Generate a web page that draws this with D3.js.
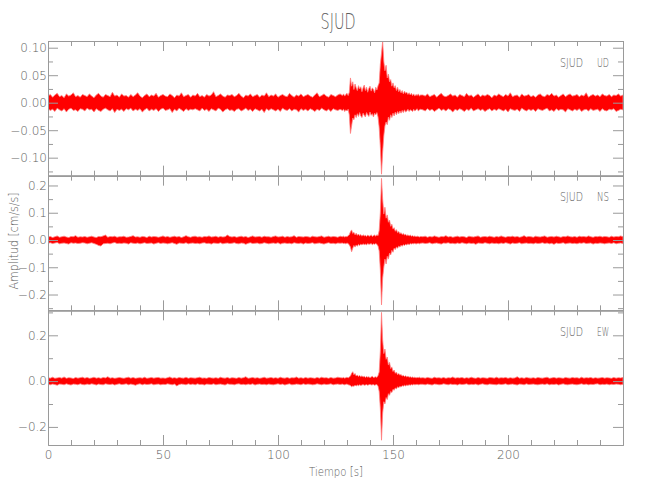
<!DOCTYPE html>
<html><head><meta charset="utf-8">
<script src="https://cdn.jsdelivr.net/npm/d3@7"></script>
<style>
html,body{margin:0;padding:0;background:#fff;}
svg{display:block;}
text{font-family:"DejaVu Sans",sans-serif;font-stretch:condensed;font-weight:200;fill:#5e5e5e;}
</style></head><body>
<svg id="chart" width="650" height="500"></svg>
<script>
// ---------------- data ----------------
const title = "SJUD";
const station = "SJUD";
const components = ["UD", "NS", "EW"];
const yAxisTitle = "Amplitud [cm/s/s]";
const xAxisTitle = "Tiempo [s]";

const xDomain = [0, 250];
const xTicksMajor = [0, 50, 100, 150, 200, 250];
const xTickLabels = ["0", "50", "100", "150", "200", ""];
const xTicksMinor = [10,20,30,40,60,70,80,90,110,120,130,140,160,170,180,190,210,220,230,240];

// sample times (s) of the envelope readings
const times = [
 0,1,2,3,4,5,6,7,8,9,10,11,12,13,14,15,16,17,18,19,20,21,22,23,24,25,26,27,28,29,30,31,32,33,34,35,36,37,38,39,40,41,42,43,44,45,46,47,48,49,
 50,51,52,53,54,55,56,57,58,59,60,61,62,63,64,65,66,67,68,69,70,71,72,73,74,75,76,77,78,79,80,81,82,83,84,85,86,87,88,89,90,91,92,93,94,95,96,97,98,99,
 100,101,102,103,104,105,106,107,108,109,110,111,112,113,114,115,116,117,118,119,120,121,122,123,124,125,126,127,
 128,128.5,129,129.5,130,130.5,131,131.5,132,132.5,133,133.5,134,134.5,135,135.5,136,136.5,137,137.5,138,138.5,139,139.5,140,140.5,141,141.5,142,142.5,143,143.5,144,144.5,145,145.5,146,146.5,147,147.5,148,148.5,149,149.5,150,150.5,151,151.5,152,152.5,153,153.5,154,154.5,155,155.5,156,156.5,157,157.5,158,158.5,159,159.5,160,160.5,161,161.5,162,
 163,164,165,166,167,168,169,170,171,172,173,174,175,176,177,178,179,180,181,182,183,184,185,186,187,188,189,190,191,192,193,194,195,196,197,198,199,
 200,201,202,203,204,205,206,207,208,209,210,211,212,213,214,215,216,217,218,219,220,221,222,223,224,225,226,227,228,229,230,231,232,233,234,235,236,237,238,239,240,241,242,243,244,245,246,247,248,249,250
];

// UD component: upper / lower envelope (cm/s/s)
const udHi = [
 .012,.015,.010,.014,.017,.011,.013,.009,.016,.012,.014,.018,.011,.013,.010,.015,
 .013,.011,.016,.012,.009,.014,.017,.012,.010,.015,.013,.011,.019,.012,.014,.010,
 .016,.012,.013,.010,.015,.011,.014,.018,.012,.009,.013,.016,.011,.014,.012,.017,
 .010,.013,.015,.012,.011,.016,.013,.009,.014,.012,.018,.011,.013,.015,.010,.014,
 .012,.017,.011,.013,.010,.015,.012,.014,.020,.011,.013,.016,.012,.010,.014,.013,
 .015,.011,.013,.017,.012,.009,.014,.012,.016,.011,.013,.015,.010,.014,.012,.018,
 .011,.014,.012,.016,.010,.013,.015,.012,.011,.017,.013,.010,.014,.012,.016,.011,
 .013,.015,.012,.010,.014,.018,.011,.013,.016,.012,.010,.015,.013,.011,.014,.016,
 .013,.016,.012,.015,.017,.013,.019,.045,.030,.038, .024,.034,.027,.022,.031,.025,.029,.020,.027,.032,
 .022,.028,.019,.026,.030,.021,.027,.024,.018,.028, .023,.031,.036,.070,.090,.112,.075,.058,.068,.045,
 .052,.038,.042,.030,.036,.027,.031,.022,.028,.020, .024,.018,.022,.016,.021,.017,.019,.015,.018,.014,
 .017,.013,.016,.012,.015,.013,.016,.012,.014,
 .014,.012,.016,.011,.013,.015,.010,.014,.017,.012,.011,.013,.016,.012,.014,.010,
 .015,.013,.011,.017,.012,.014,.010,.013,.016,.011,.014,.012,.015,.013,.009,.014,
 .012,.016,.013,.011,.015,.012,.018,.011,.013,.014,.010,.016,.012,.013,.015,.011,
 .013,.010,.014,.016,.012,.011,.015,.013,.017,.012,.014,.010,.013,.016,.011,.014,
 .016,.012,.013,.015,.011,.014,.012,.018,.010,.013,.015,.012,.014,.011,.016,.013,
 .012,.015,.011,.014,.013,.016,.012,.014
];
const udLo = [
 -.011,-.014,-.012,-.016,-.010,-.013,-.015,-.011,-.017,-.012,-.010,-.014,-.013,-.016,-.011,-.012,
 -.015,-.010,-.013,-.012,-.017,-.011,-.014,-.016,-.012,-.010,-.013,-.015,-.011,-.018,-.012,-.014,
 -.012,-.016,-.011,-.013,-.010,-.015,-.012,-.014,-.011,-.017,-.013,-.010,-.015,-.012,-.014,-.011,
 -.016,-.012,-.010,-.014,-.013,-.011,-.018,-.012,-.015,-.010,-.013,-.016,-.011,-.014,-.012,-.013,
 -.011,-.013,-.015,-.010,-.014,-.012,-.016,-.011,-.013,-.015,-.010,-.012,-.017,-.013,-.011,-.014,
 -.013,-.016,-.012,-.011,-.015,-.013,-.010,-.014,-.012,-.016,-.011,-.013,-.015,-.012,-.018,-.011,
 -.014,-.011,-.013,-.015,-.012,-.016,-.010,-.013,-.014,-.011,-.015,-.012,-.013,-.017,-.011,-.014,
 -.012,-.015,-.011,-.013,-.016,-.012,-.014,-.010,-.013,-.015,-.012,-.016,-.011,-.013,-.014,-.012,
 -.014,-.012,-.016,-.013,-.015,-.012,-.022,-.056,-.042,-.028, -.031,-.022,-.027,-.020,-.025,-.018,-.024,-.027,-.019,-.023,
 -.026,-.018,-.022,-.025,-.017,-.023,-.020,-.026,-.019,-.022, -.018,-.026,-.045,-.080,-.130,-.090,-.060,-.042,-.035,-.040,
 -.026,-.032,-.022,-.027,-.019,-.024,-.017,-.022,-.016,-.020, -.015,-.019,-.014,-.018,-.013,-.017,-.015,-.012,-.016,-.013,
 -.014,-.016,-.012,-.015,-.013,-.011,-.015,-.013,-.012,
 -.013,-.015,-.011,-.014,-.012,-.016,-.013,-.010,-.014,-.012,-.015,-.011,-.013,-.017,-.012,-.014,
 -.011,-.013,-.016,-.012,-.014,-.010,-.015,-.013,-.011,-.014,-.012,-.016,-.013,-.011,-.015,-.012,
 -.014,-.011,-.013,-.015,-.012,-.017,-.011,-.013,-.014,-.012,-.016,-.010,-.013,-.015,-.012,-.014,
 -.012,-.016,-.011,-.013,-.014,-.012,-.010,-.015,-.013,-.016,-.011,-.014,-.012,-.013,-.017,-.011,
 -.013,-.015,-.012,-.014,-.011,-.016,-.013,-.012,-.015,-.011,-.014,-.013,-.012,-.016,-.011,-.014,
 -.015,-.012,-.013,-.011,-.016,-.014,-.012,-.013
];

// NS component
const nsHi = [
 .011,.013,.009,.012,.015,.010,.012,.014,.011,.009,.013,.012,.016,.010,.012,.011,
 .013,.010,.012,.014,.011,.009,.013,.012,.015,.018,.010,.013,.012,.014,.010,.012,
 .012,.014,.010,.011,.013,.016,.011,.012,.010,.013,.012,.009,.014,.011,.013,.012,
 .010,.012,.015,.011,.013,.010,.012,.014,.011,.013,.009,.012,.016,.012,.010,.013,
 .014,.011,.012,.010,.013,.012,.015,.011,.012,.014,.010,.013,.011,.012,.018,.013,
 .011,.013,.010,.012,.014,.011,.013,.009,.012,.015,.011,.012,.013,.010,.014,.012,
 .012,.010,.013,.015,.011,.012,.014,.010,.013,.011,.012,.016,.010,.013,.012,.011,
 .013,.012,.010,.014,.012,.011,.013,.015,.010,.012,.014,.011,.013,.012,.010,.014,
 .012,.014,.011,.013,.012,.016,.019,.030,.037,.024, .028,.019,.025,.017,.022,.016,.020,.014,.019,.015,
 .017,.013,.018,.015,.014,.019,.013,.016,.018,.014, .019,.016,.035,.100,.226,.150,.095,.120,.080,.092,
 .065,.073,.050,.058,.040,.045,.032,.038,.027,.031, .023,.027,.020,.024,.018,.021,.016,.019,.015,.018,
 .014,.016,.013,.015,.012,.014,.013,.011,.013,
 .012,.014,.010,.013,.011,.015,.012,.010,.013,.012,.016,.011,.013,.010,.012,.014,
 .011,.013,.012,.009,.014,.012,.011,.013,.015,.010,.012,.013,.011,.014,.012,.010,
 .013,.011,.015,.012,.010,.013,.012,.014,.011,.013,.010,.012,.016,.011,.013,.012,
 .010,.014,.012,.011,.013,.015,.010,.012,.013,.011,.014,.012,.010,.013,.012,.015,
 .012,.011,.013,.010,.014,.012,.013,.011,.015,.012,.010,.013,.012,.014,.011,.013,
 .012,.010,.014,.011,.013,.012,.015,.012
];
const nsLo = [
 -.012,-.010,-.013,-.011,-.009,-.014,-.012,-.011,-.013,-.015,-.010,-.012,-.011,-.013,-.012,-.010,
 -.011,-.014,-.012,-.010,-.013,-.016,-.020,-.022,-.014,-.013,-.012,-.014,-.011,-.009,-.013,-.012,
 -.013,-.011,-.012,-.015,-.010,-.012,-.013,-.011,-.014,-.012,-.010,-.013,-.012,-.011,-.015,-.012,
 -.010,-.013,-.011,-.012,-.014,-.012,-.010,-.013,-.016,-.011,-.012,-.013,-.010,-.014,-.012,-.011,
 -.013,-.012,-.014,-.011,-.010,-.013,-.012,-.015,-.011,-.012,-.013,-.010,-.014,-.012,-.011,-.013,
 -.012,-.010,-.013,-.014,-.011,-.012,-.016,-.012,-.010,-.013,-.012,-.011,-.014,-.013,-.010,-.012,
 -.014,-.012,-.011,-.013,-.010,-.015,-.012,-.011,-.013,-.012,-.014,-.010,-.012,-.013,-.011,-.015,
 -.011,-.013,-.012,-.010,-.014,-.012,-.011,-.013,-.015,-.012,-.010,-.013,-.012,-.014,-.011,-.012,
 -.011,-.013,-.012,-.014,-.011,-.013,-.018,-.026,-.043,-.030, -.020,-.026,-.018,-.023,-.016,-.020,-.015,-.018,-.014,-.017,
 -.015,-.018,-.013,-.016,-.015,-.013,-.017,-.014,-.016,-.013, -.016,-.022,-.040,-.110,-.238,-.140,-.100,-.070,-.088,-.060,
 -.070,-.048,-.055,-.038,-.045,-.030,-.035,-.026,-.030,-.022, -.026,-.019,-.023,-.017,-.020,-.016,-.018,-.014,-.017,-.013,
 -.015,-.013,-.014,-.012,-.015,-.013,-.012,-.014,-.012,
 -.011,-.013,-.012,-.010,-.014,-.012,-.011,-.013,-.015,-.011,-.012,-.010,-.013,-.012,-.014,-.011,
 -.013,-.010,-.012,-.014,-.011,-.013,-.012,-.016,-.011,-.012,-.013,-.010,-.012,-.014,-.011,-.013,
 -.012,-.014,-.011,-.013,-.010,-.012,-.015,-.011,-.013,-.012,-.010,-.014,-.012,-.011,-.013,-.012,
 -.014,-.011,-.013,-.012,-.010,-.013,-.011,-.014,-.012,-.016,-.011,-.013,-.012,-.010,-.014,-.012,
 -.011,-.013,-.012,-.014,-.011,-.012,-.010,-.013,-.012,-.011,-.015,-.012,-.013,-.011,-.012,-.014,
 -.012,-.011,-.013,-.010,-.014,-.012,-.011,-.013
];

// EW component
const ewHi = [
 .015,.013,.017,.012,.014,.016,.013,.018,.012,.015,.014,.011,.016,.013,.015,.017,
 .013,.016,.012,.014,.017,.013,.015,.012,.016,.014,.019,.013,.015,.012,.014,.016,
 .014,.012,.015,.017,.013,.016,.012,.014,.015,.013,.017,.012,.014,.016,.013,.015,
 .016,.013,.014,.012,.015,.018,.013,.015,.012,.016,.014,.013,.017,.012,.015,.014,
 .013,.015,.017,.013,.014,.012,.016,.014,.013,.015,.012,.017,.014,.013,.016,.012,
 .015,.014,.012,.016,.013,.015,.019,.012,.014,.016,.013,.015,.012,.014,.017,.013,
 .014,.016,.013,.015,.012,.017,.014,.013,.016,.012,.015,.014,.018,.013,.015,.012,
 .016,.013,.015,.014,.012,.016,.013,.017,.014,.015,.012,.016,.013,.014,.017,.015,
 .014,.016,.013,.015,.017,.014,.018,.022,.034,.041, .028,.033,.022,.027,.020,.025,.019,.023,.018,.021,
 .016,.020,.017,.019,.015,.018,.021,.016,.017,.019, .016,.024,.040,.130,.300,.180,.120,.140,.095,.105,
 .070,.082,.055,.062,.042,.048,.034,.039,.028,.033, .026,.029,.022,.025,.020,.023,.018,.021,.017,.019,
 .016,.018,.015,.017,.014,.016,.015,.017,.014,
 .015,.013,.016,.014,.012,.017,.014,.015,.013,.016,.012,.015,.014,.018,.013,.015,
 .014,.016,.012,.015,.013,.017,.014,.012,.016,.013,.015,.014,.012,.016,.015,.013,
 .017,.013,.015,.014,.016,.012,.015,.013,.014,.019,.013,.015,.012,.016,.014,.013,
 .015,.012,.016,.014,.013,.015,.017,.012,.014,.016,.013,.015,.014,.012,.016,.014,
 .013,.016,.014,.015,.012,.017,.013,.015,.014,.016,.012,.015,.013,.014,.016,.013,
 .015,.014,.012,.016,.013,.015,.014,.016
];
const ewLo = [
 -.014,-.016,-.013,-.015,-.018,-.013,-.014,-.016,-.012,-.015,-.017,-.013,-.014,-.016,-.012,-.015,
 -.016,-.013,-.015,-.012,-.014,-.017,-.013,-.015,-.016,-.012,-.014,-.015,-.013,-.017,-.014,-.012,
 -.015,-.014,-.012,-.016,-.013,-.015,-.018,-.014,-.012,-.016,-.013,-.015,-.014,-.012,-.016,-.014,
 -.013,-.016,-.014,-.015,-.012,-.014,-.016,-.013,-.021,-.015,-.013,-.014,-.016,-.012,-.015,-.013,
 -.016,-.012,-.015,-.014,-.017,-.013,-.014,-.015,-.012,-.016,-.014,-.013,-.015,-.017,-.012,-.014,
 -.014,-.016,-.013,-.012,-.015,-.014,-.016,-.013,-.015,-.012,-.017,-.014,-.013,-.015,-.014,-.016,
 -.013,-.015,-.016,-.014,-.012,-.015,-.013,-.017,-.014,-.012,-.016,-.015,-.013,-.014,-.016,-.012,
 -.015,-.013,-.014,-.016,-.015,-.012,-.014,-.016,-.013,-.015,-.014,-.012,-.016,-.014,-.013,-.015,
 -.013,-.015,-.016,-.014,-.013,-.016,-.017,-.019,-.025,-.021, -.023,-.018,-.021,-.017,-.020,-.016,-.019,-.017,-.015,-.018,
 -.017,-.015,-.018,-.016,-.014,-.017,-.016,-.015,-.018,-.016, -.015,-.022,-.045,-.120,-.258,-.140,-.090,-.100,-.072,-.080,
 -.055,-.062,-.045,-.050,-.036,-.040,-.030,-.034,-.025,-.029, -.023,-.026,-.020,-.022,-.018,-.021,-.017,-.019,-.016,-.018,
 -.015,-.017,-.014,-.016,-.015,-.014,-.016,-.015,-.014,
 -.014,-.016,-.013,-.015,-.017,-.013,-.014,-.016,-.015,-.012,-.014,-.016,-.013,-.015,-.014,-.017,
 -.013,-.015,-.014,-.012,-.016,-.014,-.015,-.013,-.017,-.014,-.012,-.015,-.016,-.013,-.014,-.015,
 -.016,-.013,-.015,-.014,-.012,-.016,-.014,-.013,-.015,-.017,-.013,-.014,-.016,-.012,-.015,-.014,
 -.013,-.015,-.016,-.014,-.013,-.015,-.012,-.016,-.014,-.015,-.013,-.017,-.014,-.012,-.015,-.016,
 -.014,-.013,-.015,-.016,-.014,-.012,-.015,-.013,-.016,-.014,-.015,-.013,-.012,-.016,-.014,-.015,
 -.013,-.016,-.014,-.015,-.013,-.014,-.016,-.014
];

// y ranges and ticks per panel
const udRange = [-0.1327, 0.1122];
const nsRange = [-0.258, 0.236];
const ewRange = [-0.279, 0.309];
const udTicks = [-0.1, -0.05, 0, 0.05, 0.1];
const nsTicks = [-0.2, -0.1, 0, 0.1, 0.2];
const ewTicks = [-0.2, 0, 0.2];
const udMinor = [-0.125, -0.075, -0.025, 0.025, 0.075];
const nsMinor = [-0.25, -0.15, -0.05, 0.05, 0.15];
const ewMinor = [-0.1, 0.1, 0.3];
const udLabels = ["\u22120.10", "\u22120.05", "0.00", "0.05", "0.10"];
const nsLabels = ["\u22120.2", "\u22120.1", "0.0", "0.1", "0.2"];
const ewLabels = ["\u22120.2", "0.0", "0.2"];

// ---------------- drawing ----------------
const panels = [
  {comp: components[0], hi: udHi, lo: udLo, range: udRange, ticks: udTicks, minor: udMinor, labels: udLabels},
  {comp: components[1], hi: nsHi, lo: nsLo, range: nsRange, ticks: nsTicks, minor: nsMinor, labels: nsLabels},
  {comp: components[2], hi: ewHi, lo: ewLo, range: ewRange, ticks: ewTicks, minor: ewMinor, labels: ewLabels}
];

const X0 = 48, X1 = 623, TOP = 41, BOT = 445;
const PH = (BOT - TOP) / 3;
const axisColor = "#9a9a9a";
const textColor = "#5e5e5e";
const svg = d3.select("#chart");
const x = d3.scaleLinear().domain(xDomain).range([X0, X1]);

function styleAxis(g) {
  g.attr("font-family", null).attr("font-size", null);
  g.select(".domain").attr("stroke", axisColor).attr("stroke-width", 1);
  g.selectAll(".tick line").attr("stroke", axisColor).attr("stroke-width", 1);
  g.selectAll(".tick text").attr("fill", textColor).style("font-size", "12px");
}

const defs = svg.append("defs");

panels.forEach((p, i) => {
  const t0 = TOP + i * PH, t1 = t0 + PH;
  const y = d3.scaleLinear().domain(p.range).range([t1, t0]);
  const g = svg.append("g");

  defs.append("clipPath").attr("id", "clip" + i)
    .append("rect").attr("x", X0).attr("y", t0).attr("width", X1 - X0).attr("height", PH);

  const n = Math.min(times.length, p.hi.length, p.lo.length);
  const pts = d3.range(n).map(k => ({t: times[k], hi: p.hi[k], lo: p.lo[k]}));
  const area = d3.area().x(d => x(d.t)).y0(d => y(d.lo)).y1(d => y(d.hi));
  g.append("path").datum(pts).attr("clip-path", "url(#clip" + i + ")")
    .attr("d", area).attr("fill", "#ff0000")
    .attr("stroke", "#ff8080").attr("stroke-width", 0.8).attr("stroke-linejoin", "round");

  const fmt = v => { const j = p.ticks.indexOf(v); return j >= 0 ? p.labels[j] : ""; };
  g.append("g").attr("transform", `translate(${X0},0)`)
    .call(d3.axisLeft(y).tickValues(p.ticks).tickSize(-10).tickSizeOuter(0).tickPadding(1).tickFormat(fmt))
    .call(styleAxis);
  g.append("g").attr("transform", `translate(${X0},0)`)
    .call(d3.axisLeft(y).tickValues(p.minor).tickSize(-5).tickSizeOuter(0).tickFormat(""))
    .call(styleAxis);
  g.append("g").attr("transform", `translate(${X1},0)`)
    .call(d3.axisRight(y).tickValues(p.ticks).tickSize(-10).tickSizeOuter(0).tickFormat(""))
    .call(styleAxis);
  g.append("g").attr("transform", `translate(${X1},0)`)
    .call(d3.axisRight(y).tickValues(p.minor).tickSize(-5).tickSizeOuter(0).tickFormat(""))
    .call(styleAxis);
  g.append("g").attr("transform", `translate(0,${t0})`)
    .call(d3.axisTop(x).tickValues(xTicksMajor).tickSize(-10).tickSizeOuter(0).tickFormat(""))
    .call(styleAxis);
  g.append("g").attr("transform", `translate(0,${t0})`)
    .call(d3.axisTop(x).tickValues(xTicksMinor).tickSize(-5).tickSizeOuter(0).tickFormat(""))
    .call(styleAxis);
  const xfmt = v => (i === 2 ? xTickLabels[xTicksMajor.indexOf(v)] : "");
  g.append("g").attr("transform", `translate(0,${t1})`)
    .call(d3.axisBottom(x).tickValues(xTicksMajor).tickSize(-10).tickSizeOuter(0).tickPadding(5).tickFormat(xfmt))
    .call(styleAxis);
  g.append("g").attr("transform", `translate(0,${t1})`)
    .call(d3.axisBottom(x).tickValues(xTicksMinor).tickSize(-5).tickSizeOuter(0).tickFormat(""))
    .call(styleAxis);

  g.append("text").attr("x", 583).attr("y", t0 + 25.5).attr("text-anchor", "end")
    .attr("textLength", 23).attr("lengthAdjust", "spacingAndGlyphs")
    .style("font-size", "12.5px").text(station);
  g.append("text").attr("x", 609).attr("y", t0 + 25.5).attr("text-anchor", "end")
    .attr("textLength", 12).attr("lengthAdjust", "spacingAndGlyphs")
    .style("font-size", "12.5px").text(p.comp);
});

svg.append("text").attr("x", 338).attr("y", 29).attr("text-anchor", "middle")
  .attr("textLength", 35).attr("lengthAdjust", "spacingAndGlyphs")
  .style("font-size", "21px").text(title);

svg.append("text").attr("x", 336).attr("y", 476).attr("text-anchor", "middle")
  .attr("textLength", 54).attr("lengthAdjust", "spacingAndGlyphs")
  .style("font-size", "13px").text(xAxisTitle);
svg.append("text").attr("transform", "translate(18,241) rotate(-90)").attr("text-anchor", "middle")
  .attr("textLength", 97).attr("lengthAdjust", "spacingAndGlyphs")
  .style("font-size", "13px").text(yAxisTitle);
</script>
</body></html>
